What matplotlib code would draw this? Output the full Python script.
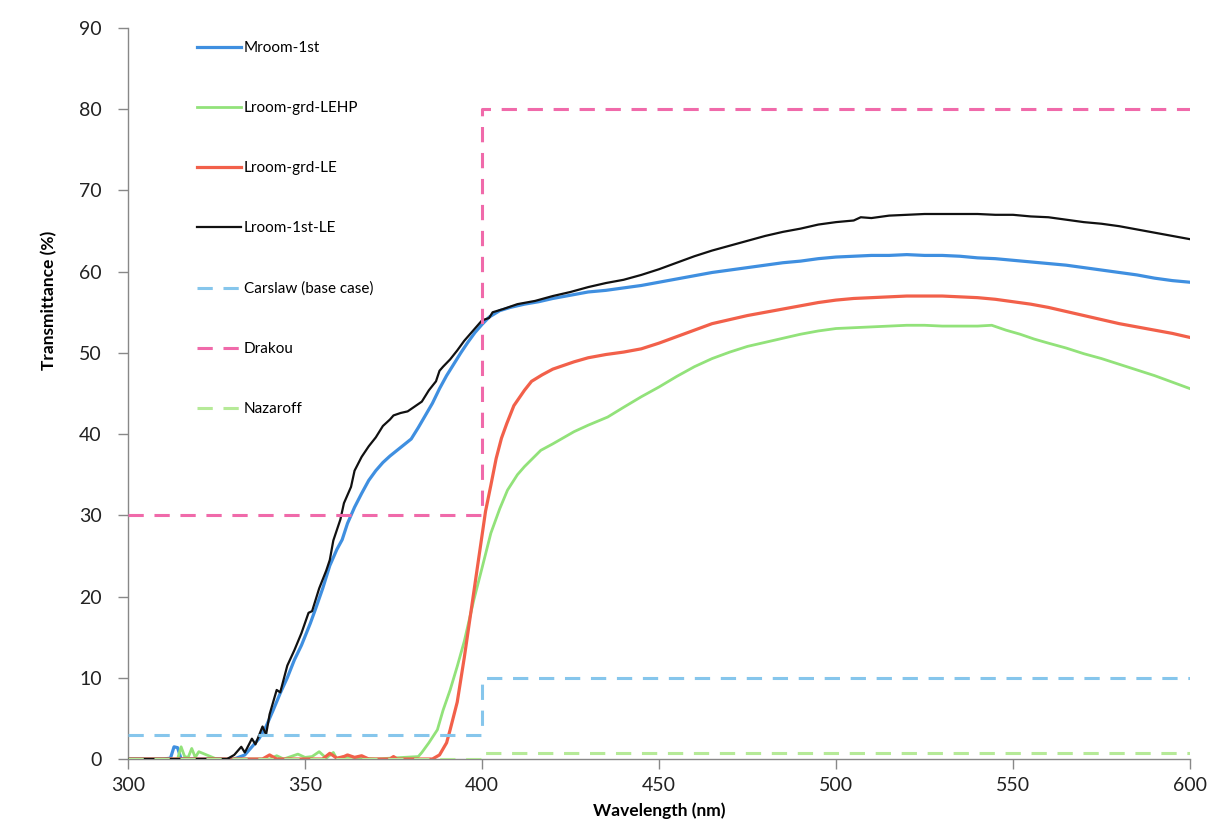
import matplotlib
matplotlib.use("Agg")
import matplotlib.pyplot as plt

plt.rcParams['font.family'] = ['Lato', 'DejaVu Sans']

# ---------------- data ----------------
mroom_wl = [300, 305, 310, 312, 313, 314, 315, 320, 325, 330, 333, 335, 337, 339, 341, 343, 345, 347, 349,
            351.5, 353, 355, 357, 359, 360.5, 362, 364, 366, 368, 370, 372, 374, 376, 378, 380, 382, 384,
            386, 388, 390, 392, 394, 396, 398, 400, 402, 405, 408, 412, 416, 420, 425, 430, 435, 440, 445,
            450, 455, 460, 465, 470, 475, 480, 485, 490, 495, 500, 505, 510, 515, 520, 525, 530, 535, 540,
            545, 550, 555, 560, 565, 570, 575, 580, 585, 590, 595, 600]
mroom_t = [0, 0, 0, 0.1, 1.5, 1.4, 0, 0, 0, 0, 0.5, 1.5, 2.5, 4.0, 6.0, 8.1, 10.0, 12.2, 14.0,
           16.7, 18.5, 21.0, 23.8, 25.8, 27.0, 29.0, 31.0, 32.7, 34.3, 35.5, 36.5, 37.3, 38.0, 38.7, 39.4, 40.8, 42.3,
           43.8, 45.6, 47.2, 48.6, 50.0, 51.3, 52.5, 53.5, 54.4, 55.2, 55.6, 56.0, 56.3, 56.7, 57.1, 57.5, 57.7, 58.0, 58.3,
           58.7, 59.1, 59.5, 59.9, 60.2, 60.5, 60.8, 61.1, 61.3, 61.6, 61.8, 61.9, 62.0, 62.0, 62.1, 62.0, 62.0, 61.9, 61.7,
           61.6, 61.4, 61.2, 61.0, 60.8, 60.5, 60.2, 59.9, 59.6, 59.2, 58.9, 58.7]

lehp_wl = [300, 310, 314, 315, 316, 317, 318, 319, 320, 325, 340, 342, 344, 348, 350, 352, 354, 356, 358, 359,
           361, 370, 382, 383, 385, 387.4, 389, 391, 393, 395, 397.7, 400, 402.5, 405, 407.2, 410, 412, 416.6,
           420, 426, 430, 435.5, 440, 445, 450, 455, 460, 465, 470, 475, 480, 485, 490, 495, 500, 505, 510,
           515, 520, 525, 530, 535, 540, 544, 548, 552, 556, 560, 565, 570, 575, 580, 585, 590, 595, 600]
lehp_t = [0, 0, 0, 1.5, 0.3, 0.2, 1.3, 0.2, 0.9, 0, 0, 0.4, 0, 0.6, 0.2, 0.3, 0.9, 0.1, 0.8, 0,
          0.3, 0, 0.3, 0.8, 2.0, 3.6, 6.0, 8.5, 11.4, 14.5, 19.6, 23.5, 27.8, 30.8, 33.1, 35.0, 36.0, 38.0,
          38.8, 40.3, 41.1, 42.1, 43.3, 44.6, 45.8, 47.1, 48.3, 49.3, 50.1, 50.8, 51.3, 51.8, 52.3, 52.7, 53.0, 53.1, 53.2,
          53.3, 53.4, 53.4, 53.3, 53.3, 53.3, 53.4, 52.8, 52.3, 51.7, 51.2, 50.6, 49.9, 49.3, 48.6, 47.9, 47.2, 46.4, 45.6]

le_wl = [300, 338, 340, 342, 355, 357, 359, 361, 362, 364, 366, 368, 374, 375, 376, 386, 388, 390, 391, 393,
         395, 397, 398.7, 400, 401, 402.5, 404, 405.5, 407, 409, 412, 414, 417, 420, 426, 430, 435, 440, 445,
         450, 455, 460, 465, 470, 475, 480, 485, 490, 495, 500, 505, 510, 515, 520, 525, 530, 535, 540, 545,
         550, 555, 560, 565, 570, 575, 580, 585, 590, 595, 600]
le_t = [0, 0, 0.5, 0, 0, 0.7, 0.1, 0.3, 0.5, 0.2, 0.4, 0, 0, 0.3, 0, 0, 0.5, 2.0, 3.6, 7.0,
        12.5, 18.5, 23.6, 27.5, 30.5, 33.7, 37.0, 39.5, 41.3, 43.5, 45.4, 46.5, 47.3, 48.0, 48.9, 49.4, 49.8, 50.1, 50.5,
        51.2, 52.0, 52.8, 53.6, 54.1, 54.6, 55.0, 55.4, 55.8, 56.2, 56.5, 56.7, 56.8, 56.9, 57.0, 57.0, 57.0, 56.9, 56.8, 56.6,
        56.3, 56.0, 55.6, 55.1, 54.6, 54.1, 53.6, 53.2, 52.8, 52.4, 51.9]

le1_wl = [300, 328, 330, 332, 333, 335, 336, 338, 339, 340, 342, 343, 345, 347, 349, 351, 352, 354, 356, 357,
          358, 360, 361, 363, 364, 366, 368, 370, 372, 374, 375, 377, 379, 381, 383, 385, 387, 388, 389, 391,
          393, 395, 397, 399, 400, 402, 403, 406, 410, 415, 420, 425, 430, 435, 440, 445, 450, 455, 460, 465,
          470, 475, 480, 485, 490, 495, 500, 505, 507, 510, 515, 520, 525, 530, 535, 540, 545, 550, 555, 560,
          565, 570, 575, 580, 585, 590, 595, 600]
le1_t = [0, 0, 0.5, 1.5, 0.8, 2.5, 1.8, 4.0, 3.0, 5.5, 8.5, 8.2, 11.5, 13.4, 15.5, 18.0, 18.2, 21.0, 23.2, 24.5,
         26.9, 29.5, 31.5, 33.5, 35.5, 37.2, 38.5, 39.6, 41.0, 41.8, 42.3, 42.6, 42.8, 43.4, 44.0, 45.4, 46.5, 47.8, 48.3, 49.2,
         50.3, 51.5, 52.5, 53.5, 54.0, 54.3, 55.0, 55.4, 56.0, 56.4, 57.0, 57.5, 58.1, 58.6, 59.0, 59.6, 60.3, 61.1, 61.9, 62.6,
         63.2, 63.8, 64.4, 64.9, 65.3, 65.8, 66.1, 66.3, 66.7, 66.6, 66.9, 67.0, 67.1, 67.1, 67.1, 67.1, 67.0, 67.0, 66.8, 66.7,
         66.4, 66.1, 65.9, 65.6, 65.2, 64.8, 64.4, 64.0]

step_wl = [300, 400, 400, 600]
carslaw_t = [3, 3, 10, 10]
drakou_t = [30, 30, 80, 80]
nazaroff_t = [0, 0, 0.7, 0.7]

labels = ["Mroom-1st", "Lroom-grd-LEHP", "Lroom-grd-LE", "Lroom-1st-LE",
          "Carslaw (base case)", "Drakou", "Nazaroff"]
colors = ["#3f8fe0", "#92e27a", "#f2604a", "#111111", "#86c6ec", "#f06aaa", "#b6ea98"]

x_ticks = [300, 350, 400, 450, 500, 550, 600]
y_ticks = [0, 10, 20, 30, 40, 50, 60, 70, 80, 90]

# ---------------- figure ----------------
fig = plt.figure(figsize=(12.14, 8.35), dpi=100)
ax = fig.add_axes([128 / 1214, 76 / 835, (1190 - 128) / 1214, (759 - 28) / 835])

dash = (0, (5, 3.5))
ax.plot(mroom_wl, mroom_t, color=colors[0], lw=2.3, label=labels[0], zorder=2)
ax.plot(lehp_wl, lehp_t, color=colors[1], lw=2.0, label=labels[1], zorder=2)
ax.plot(le_wl, le_t, color=colors[2], lw=2.3, label=labels[2], zorder=2)
ax.plot(le1_wl, le1_t, color=colors[3], lw=1.6, label=labels[3], zorder=3)
ax.plot(step_wl, carslaw_t, color=colors[4], lw=2.2, ls=dash, label=labels[4], zorder=4)
ax.plot(step_wl, drakou_t, color=colors[5], lw=2.2, ls=dash, label=labels[5], zorder=4)
ax.plot(step_wl, nazaroff_t, color=colors[6], lw=2.2, ls=dash, label=labels[6], zorder=4)

ax.set_xlim(300, 600)
ax.set_ylim(0, 90)
ax.set_xticks(x_ticks)
ax.set_yticks(y_ticks)
ax.tick_params(axis='both', direction='out', length=7, width=1, color='#888888',
               labelsize=14, labelcolor='#222222')
ax.tick_params(axis='y', pad=12)
ax.tick_params(axis='x', pad=6)
for s in ['top', 'right']:
    ax.spines[s].set_visible(False)
for s in ['left', 'bottom']:
    ax.spines[s].set_color('#888888')
    ax.spines[s].set_linewidth(1)

ax.set_xlabel("Wavelength (nm)", fontsize=12.5, fontweight='bold', labelpad=6)
ax.set_ylabel("Transmittance (%)", fontsize=12.5, fontweight='bold')
ax.yaxis.set_label_coords((57 - 128) / 1062, (759 - 300) / 731)

leg = ax.legend(loc='upper left', bbox_to_anchor=(197 / 1214, 1 - 41 / 835),
                bbox_transform=fig.transFigure, frameon=False, borderpad=0, borderaxespad=0,
                handlelength=2.85, handletextpad=0.2, labelspacing=3.02, fontsize=11)

fig.savefig("out.png", dpi=100)
